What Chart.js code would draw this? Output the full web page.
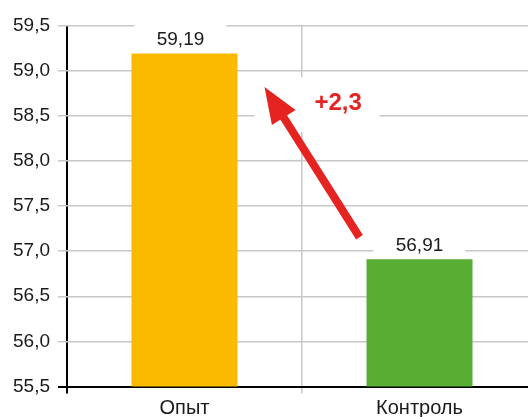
<!DOCTYPE html>
<html>
<head>
<meta charset="utf-8">
<script src="https://cdn.jsdelivr.net/npm/chart.js@4/dist/chart.umd.min.js"></script>
<style>
    html, body { margin: 0; padding: 0; background: #fff; overflow: hidden; }
    #wrap { width: 540px; height: 417px; position: relative; }
</style>
</head>
<body>
<div id="wrap"><canvas id="chart"></canvas></div>
<script>
const categories = ['Опыт', 'Контроль'];
const values = [59.19, 56.91];
const barColors = ['#FBB900', '#57AE33'];
const yTicks = [55.5, 56.0, 56.5, 57.0, 57.5, 58.0, 58.5, 59.0, 59.5];
const diffLabel = '+2,3';

const fontFamily = '"Liberation Sans", Arial, sans-serif';
const gridColor = '#c8c8c8';
const arrowColor = '#E52421';

function formatNum(v, digits) {
    return v.toFixed(digits).replace('.', ',');
}

const annotationPlugin = {
    id: 'annotations',
    afterDatasetsDraw(chart) {
        const ctx = chart.ctx;
        const x = chart.scales.x;
        const y = chart.scales.y;

        ctx.save();
        ctx.font = '19px ' + fontFamily;
        ctx.textAlign = 'center';
        ctx.textBaseline = 'alphabetic';
        values.forEach((v, i) => {
            const cx = x.getPixelForValue(i) + (i === 0 ? -4 : 0);
            const top = y.getPixelForValue(v);
            ctx.fillStyle = '#fff';
            ctx.fillRect(cx - 46, top - 34, 92, 30);
            ctx.fillStyle = '#1a1a1a';
            ctx.fillText(formatNum(v, 2), cx, top - 8.5);
        });

        // arrow from the control label up to the experiment bar
        const tipX = x.getPixelForValue(0) + 80;
        const tipY = y.getPixelForValue(values[0]) + 33.5;
        const tailX = x.getPixelForValue(1) - 60;
        const tailY = y.getPixelForValue(values[1]) - 22;

        ctx.fillStyle = '#fff';
        ctx.fillRect(tipX - 10, tipY - 10, 125, 55);

        const dx = tipX - tailX;
        const dy = tipY - tailY;
        const len = Math.hypot(dx, dy);
        const ux = dx / len;
        const uy = dy / len;
        const headLen = 36;
        const headHalf = 14;
        const baseX = tipX - ux * headLen;
        const baseY = tipY - uy * headLen;

        ctx.strokeStyle = arrowColor;
        ctx.lineWidth = 8;
        ctx.lineCap = 'butt';
        ctx.beginPath();
        ctx.moveTo(tailX, tailY);
        ctx.lineTo(baseX + ux * 4, baseY + uy * 4);
        ctx.stroke();

        ctx.fillStyle = arrowColor;
        ctx.beginPath();
        ctx.moveTo(tipX, tipY);
        ctx.lineTo(baseX - uy * headHalf, baseY + ux * headHalf);
        ctx.lineTo(baseX + uy * headHalf, baseY - ux * headHalf);
        ctx.closePath();
        ctx.fill();

        ctx.font = 'bold 24px ' + fontFamily;
        ctx.textAlign = 'left';
        ctx.fillText(diffLabel, tipX + 50, tipY + 23);
        ctx.restore();
    },
};

const ctx = document.getElementById('chart').getContext('2d');
new Chart(ctx, {
    type: 'bar',
    data: {
        labels: categories,
        datasets: [
            {
                data: values,
                backgroundColor: barColors,
                borderWidth: 0,
                categoryPercentage: 1,
                barPercentage: 0.451,
            },
        ],
    },
    options: {
        responsive: true,
        maintainAspectRatio: false,
        animation: false,
        layout: {
            padding: { top: 25.5, right: 3, bottom: 0, left: 0 },
        },
        plugins: {
            legend: { display: false },
            tooltip: { enabled: false },
        },
        scales: {
            x: {
                offset: true,
                grid: {
                    offset: true,
                    color: (c) => (c.index === 0 ? '#000' : gridColor),
                    lineWidth: (c) => (c.index === 0 ? 2 : 1.5),
                    tickLength: 7,
                },
                border: { color: '#000', width: 2 },
                ticks: {
                    color: '#1a1a1a',
                    padding: 3,
                    font: { family: fontFamily, size: 20 },
                },
                afterFit(scale) {
                    scale.height = 30.5;
                },
            },
            y: {
                min: yTicks[0],
                max: yTicks[yTicks.length - 1],
                afterBuildTicks(scale) {
                    scale.ticks = yTicks.map((v) => ({ value: v }));
                },
                grid: {
                    color: (c) => (c.index === 0 ? '#000' : gridColor),
                    lineWidth: (c) => (c.index === 0 ? 2 : 1.5),
                    tickLength: 9,
                },
                border: { display: false },
                ticks: {
                    color: '#1a1a1a',
                    padding: 8,
                    font: { family: fontFamily, size: 19 },
                    callback: (v) => formatNum(v, 1),
                },
                afterFit(scale) {
                    scale.width = 67;
                },
            },
        },
    },
    plugins: [annotationPlugin],
});
</script>
</body>
</html>
